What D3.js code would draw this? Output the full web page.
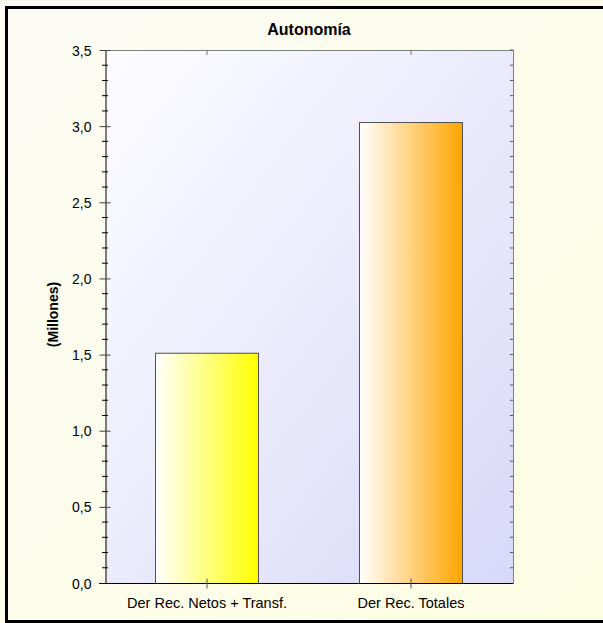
<!DOCTYPE html>
<html>
<head>
<meta charset="utf-8">
<script src="https://cdn.jsdelivr.net/npm/d3@7"></script>
<style>
html,body{margin:0;padding:0;background:#fff;}
svg{display:block;}
text{font-family:"Liberation Sans",Arial,sans-serif;fill:#000;}
</style>
</head>
<body>
<script>
const title = "Autonomía";
const yAxisLabel = "(Millones)";
const categories = ["Der Rec. Netos + Transf.", "Der Rec. Totales"];
const values = [1.512, 3.027];
const barColors = ["#ffff00", "#ffa500"];
const yTicks = [0, 0.5, 1.0, 1.5, 2.0, 2.5, 3.0, 3.5];
const yMinorTicks = d3.range(0, 36).map(i => i / 10);

const W = 603, H = 623;
const plot = {left: 105, top: 50, right: 513, bottom: 583};

const svg = d3.select("body").append("svg").attr("width", W).attr("height", H);
const defs = svg.append("defs");

const bgGrad = defs.append("linearGradient").attr("id", "bg")
  .attr("x1", "0").attr("y1", "0").attr("x2", "1").attr("y2", "1");
bgGrad.append("stop").attr("offset", "0").attr("stop-color", "#fbfbf3");
bgGrad.append("stop").attr("offset", "1").attr("stop-color", "#fefee4");

const plotGrad = defs.append("linearGradient").attr("id", "plotbg")
  .attr("x1", "0").attr("y1", "0").attr("x2", "1").attr("y2", "1");
plotGrad.append("stop").attr("offset", "0").attr("stop-color", "#fdfdff");
plotGrad.append("stop").attr("offset", "1").attr("stop-color", "#d8d8f9");

barColors.forEach((c, i) => {
  const g = defs.append("linearGradient").attr("id", "bar" + i)
    .attr("x1", "0").attr("y1", "0").attr("x2", "1").attr("y2", "0");
  g.append("stop").attr("offset", "0").attr("stop-color", "#ffffff");
  g.append("stop").attr("offset", "1").attr("stop-color", c);
});

// page background
svg.append("rect").attr("x", 0).attr("y", 0).attr("width", W).attr("height", H).attr("fill", "url(#bg)");
// outer frame (left, top, bottom)
svg.append("rect").attr("x", 5).attr("y", 6).attr("width", W - 5).attr("height", 3).attr("fill", "#000");
svg.append("rect").attr("x", 5).attr("y", 6).attr("width", 3).attr("height", 617).attr("fill", "#000");
svg.append("rect").attr("x", 5).attr("y", 620).attr("width", W - 5).attr("height", 3).attr("fill", "#000");

const x = d3.scaleBand().domain(categories).range([plot.left, plot.right])
  .paddingInner(0.5).paddingOuter(0.25);
const y = d3.scaleLinear().domain([0, 3.5]).range([plot.bottom, plot.top]);
const fmt = v => d3.format(".1f")(v).replace(".", ",");

// plot area
svg.append("rect").attr("x", plot.left).attr("y", plot.top)
  .attr("width", plot.right - plot.left).attr("height", plot.bottom - plot.top)
  .attr("fill", "url(#plotbg)");

// bars
svg.selectAll("rect.bar").data(values).join("rect").attr("class", "bar")
  .attr("x", (d, i) => x(categories[i]) - 0.5)
  .attr("y", d => y(d) + 0.5)
  .attr("width", x.bandwidth() + 1)
  .attr("height", d => y(0) - y(d))
  .attr("fill", (d, i) => `url(#bar${i})`)
  .attr("stroke", "#505050").attr("stroke-width", 1);

// frame of plot: top & right grey
svg.append("line").attr("x1", plot.left).attr("x2", plot.right + 0.5).attr("y1", plot.top + 0.5).attr("y2", plot.top + 0.5)
  .attr("stroke", "#808080");
svg.append("line").attr("x1", plot.right + 0.5).attr("x2", plot.right + 0.5).attr("y1", plot.top).attr("y2", plot.bottom)
  .attr("stroke", "#808080");

// left axis
const yAxis = d3.axisLeft(y).tickValues(yTicks).tickFormat(fmt).tickSizeInner(6).tickSizeOuter(0).tickPadding(8);
const gy = svg.append("g").attr("transform", `translate(${plot.left + 0.5},0)`).call(yAxis);
gy.select(".domain").attr("stroke", "#000");
gy.selectAll(".tick line").attr("x2", -6).attr("x1", 5).attr("stroke", "#444");
gy.selectAll(".tick text").style("font-size", "14px").attr("dy", "0.36em");
// minor ticks left
svg.append("g").selectAll("line").data(yMinorTicks.filter(v => Math.round(v * 10) % 5 !== 0)).join("line")
  .attr("x1", plot.left - 3).attr("x2", plot.left + 3)
  .attr("y1", d => y(d)).attr("y2", d => y(d))
  .attr("stroke", "#000");
// right axis minor/major ticks inside
svg.append("g").selectAll("line").data(yMinorTicks.filter(v => v > 0)).join("line")
  .attr("x1", plot.right - 3).attr("x2", plot.right)
  .attr("y1", d => y(d)).attr("y2", d => y(d))
  .attr("stroke", "#555");

// bottom axis
const xAxis = d3.axisBottom(x).tickSizeInner(5).tickSizeOuter(0).tickPadding(9);
const gx = svg.append("g").attr("transform", `translate(0,${plot.bottom + 0.5})`).call(xAxis);
gx.select(".domain").attr("stroke", "#000").attr("d", `M${plot.left - 6},0H${plot.right + 0.5}`);
gx.selectAll(".tick line").attr("y1", -5).attr("y2", 5).attr("stroke", "#555");
gx.selectAll(".tick text").style("font-size", "14.5px");
// top ticks
svg.append("g").selectAll("line").data(categories).join("line")
  .attr("x1", d => x(d) + x.bandwidth() / 2).attr("x2", d => x(d) + x.bandwidth() / 2)
  .attr("y1", plot.top).attr("y2", plot.top + 5)
  .attr("stroke", "#777");

// title
svg.append("text").attr("x", (plot.left + plot.right) / 2).attr("y", 35)
  .attr("text-anchor", "middle").style("font-size", "16px").style("font-weight", "bold")
  .text(title);

// y label
svg.append("text").attr("transform", `translate(58,${(plot.top + plot.bottom) / 2 - 2}) rotate(-90)`)
  .attr("text-anchor", "middle").style("font-size", "14px").style("font-weight", "bold")
  .text(yAxisLabel);
</script>
</body>
</html>
